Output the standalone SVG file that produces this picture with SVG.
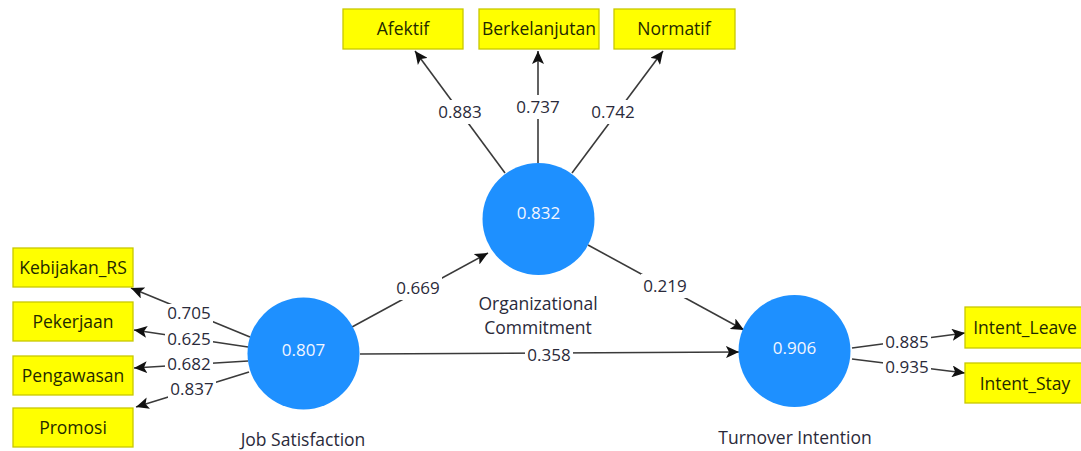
<svg xmlns="http://www.w3.org/2000/svg" width="1081" height="451" viewBox="0 0 1081 451">
  <style>
    .ind rect { fill: #ffff00; stroke: #c8c800; stroke-width: 1.3; }
    .ind text { font-family: "Open Sans", "Noto Sans", sans-serif; font-size: 17.5px; fill: #1f2a00; text-anchor: middle; }
    .lv circle { fill: #1e90ff; }
    .lv .val { font-family: "Open Sans", "Noto Sans", sans-serif; font-size: 17px; fill: #f2f6ff; text-anchor: middle; }
    .lv .name { font-family: "Open Sans", "Noto Sans", sans-serif; font-size: 17.5px; fill: #2a2a3a; text-anchor: middle; }
    .edge { stroke: #3a3a3a; stroke-width: 1.6; fill: none; marker-end: url(#head); }
    .lbl rect { fill: #ffffff; }
    .lbl text { font-family: "Open Sans", "Noto Sans", sans-serif; font-size: 17px; fill: #2a2a3a; text-anchor: middle; }
  </style>
  <defs>
    <marker id="head" markerUnits="userSpaceOnUse" markerWidth="14" markerHeight="12" refX="13" refY="6" orient="auto">
      <path d="M0,0 L13,6 L0,12 L3,6 Z" fill="#111111"/>
    </marker>
  </defs>
  <rect width="1081" height="451" fill="#ffffff"/>

  <!-- connectors -->
  <g id="connectors">
    <!-- Organizational Commitment outer loadings -->
    <line class="edge" x1="505" y1="173" x2="415" y2="51"/>
    <line class="edge" x1="538" y1="163" x2="538" y2="51"/>
    <line class="edge" x1="572" y1="173" x2="663" y2="51"/>
    <!-- Job Satisfaction outer loadings -->
    <line class="edge" x1="250" y1="337" x2="131" y2="288"/>
    <line class="edge" x1="248" y1="347" x2="134" y2="330"/>
    <line class="edge" x1="248" y1="361" x2="134" y2="368"/>
    <line class="edge" x1="249" y1="372" x2="136" y2="407"/>
    <!-- Turnover Intention outer loadings -->
    <line class="edge" x1="852" y1="348" x2="965" y2="333"/>
    <line class="edge" x1="852" y1="359" x2="965" y2="373"/>
    <!-- structural paths -->
    <line class="edge" x1="352" y1="327" x2="488" y2="253"/>
    <line class="edge" x1="588" y1="245" x2="744" y2="330"/>
    <line class="edge" x1="360" y1="354" x2="739" y2="352"/>

    <!-- path coefficients / loadings -->
    <g class="lbl">
      <rect x="436" y="100" width="48" height="24"/><text x="460" y="118">0.883</text>
      <rect x="514" y="95" width="48" height="24"/><text x="538" y="113">0.737</text>
      <rect x="589" y="100" width="48" height="24"/><text x="613" y="118">0.742</text>

      <rect x="165" y="304" width="48" height="19"/><text x="189" y="319">0.705</text>
      <rect x="165" y="330" width="48" height="19"/><text x="189" y="345">0.625</text>
      <rect x="165" y="355" width="48" height="19"/><text x="189" y="370">0.682</text>
      <rect x="168" y="380" width="48" height="19"/><text x="192" y="395">0.837</text>

      <rect x="883" y="333" width="48" height="19"/><text x="907" y="348">0.885</text>
      <rect x="883" y="358" width="48" height="19"/><text x="907" y="373">0.935</text>

      <rect x="394" y="276" width="48" height="24"/><text x="418" y="294">0.669</text>
      <rect x="641" y="274" width="48" height="24"/><text x="665" y="292">0.219</text>
      <rect x="525" y="345" width="48" height="19"/><text x="549" y="361">0.358</text>
    </g>
  </g>

  <!-- latent variables -->
  <g id="org-commitment" class="lv">
    <circle cx="538.5" cy="219" r="56"/>
    <text class="val" x="538.5" y="219">0.832</text>
    <text class="name" x="538" y="310">Organizational</text>
    <text class="name" x="538" y="334">Commitment</text>
  </g>
  <g id="job-satisfaction" class="lv">
    <circle cx="303.5" cy="353.5" r="56"/>
    <text class="val" x="303.5" y="356">0.807</text>
    <text class="name" x="303" y="446">Job Satisfaction</text>
  </g>
  <g id="turnover-intention" class="lv">
    <circle cx="794.5" cy="351" r="56"/>
    <text class="val" x="794.5" y="354">0.906</text>
    <text class="name" x="795" y="444">Turnover Intention</text>
  </g>

  <!-- indicators -->
  <g id="afektif" class="ind"><rect x="343" y="9" width="120" height="40"/><text x="403" y="35">Afektif</text></g>
  <g id="berkelanjutan" class="ind"><rect x="479" y="9" width="120" height="40"/><text x="539" y="35">Berkelanjutan</text></g>
  <g id="normatif" class="ind"><rect x="614" y="9" width="121" height="40"/><text x="674" y="35">Normatif</text></g>

  <g id="kebijakan-rs" class="ind"><rect x="13" y="248" width="120" height="39"/><text x="73" y="274">Kebijakan_RS</text></g>
  <g id="pekerjaan" class="ind"><rect x="13" y="302" width="120" height="39"/><text x="73" y="328">Pekerjaan</text></g>
  <g id="pengawasan" class="ind"><rect x="13" y="356" width="120" height="39"/><text x="73" y="382">Pengawasan</text></g>
  <g id="promosi" class="ind"><rect x="13" y="408" width="120" height="39"/><text x="73" y="434">Promosi</text></g>

  <g id="intent-leave" class="ind"><rect x="965" y="307" width="122" height="41"/><text x="1025" y="334">Intent_Leave</text></g>
  <g id="intent-stay" class="ind"><rect x="965" y="363" width="120" height="40"/><text x="1025" y="390">Intent_Stay</text></g>
</svg>
